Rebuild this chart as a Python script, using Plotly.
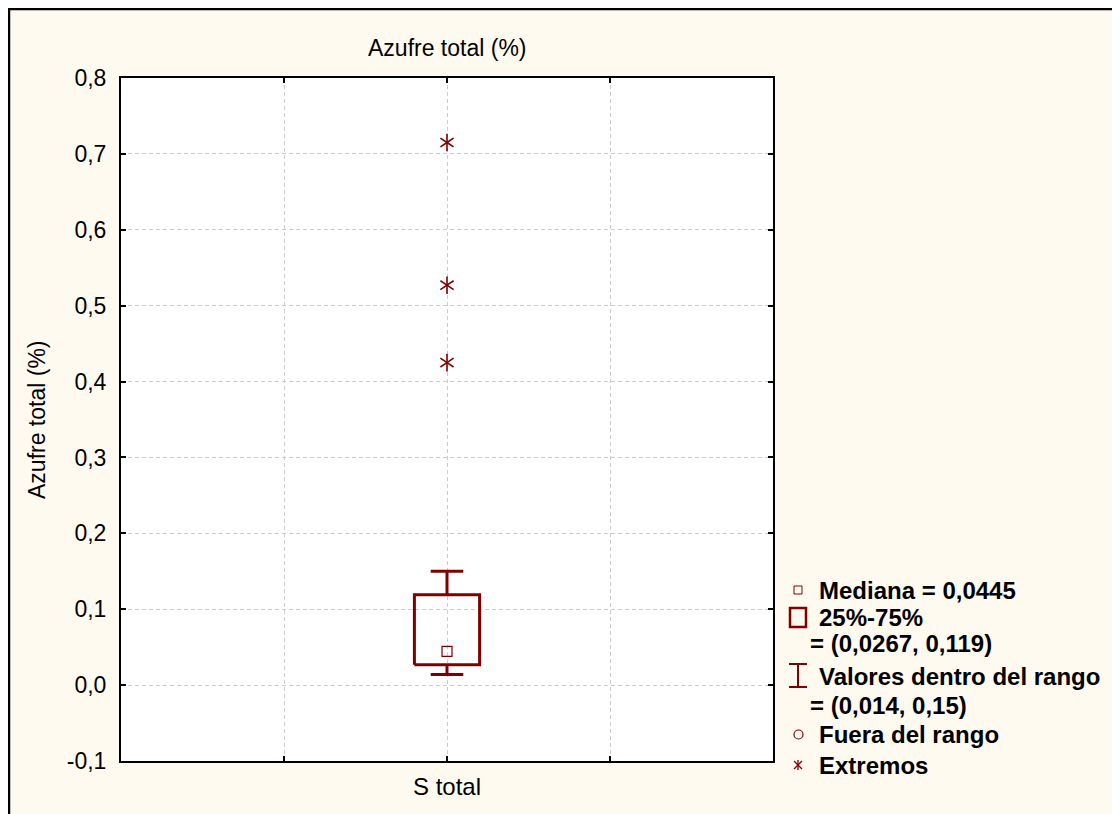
import plotly.graph_objects as go

# ---- data ----
category = ["S total"]
cat_pos = [2]
q1 = [0.0267]
median = [0.0445]
q3 = [0.119]
lower = [0.014]
upper = [0.15]
extremes = [0.715, 0.527, 0.425]
ytick_vals = [-0.1, 0.0, 0.1, 0.2, 0.3, 0.4, 0.5, 0.6, 0.7, 0.8]
ytick_text = ["-0,1", "0,0", "0,1", "0,2", "0,3", "0,4", "0,5", "0,6", "0,7", "0,8"]
legend_lines = ["Mediana = 0,0445", "25%-75%", "= (0,0267, 0,119)",
                "Valores dentro del rango", "= (0,014, 0,15)",
                "Fuera del rango", "Extremos"]

RED = "#800000"
BG = "#FFFAF0"
FONT = "Liberation Sans, Arial, sans-serif"

# page offset (browser body margin)
OX, OY = 8, 8
# plot area in page pixels
L, R, T, B = 121, 773, 78, 761
W, H = 1120 - OX, 814 - OY
def px(x):
    return (x - L) / (R - L)
def py(y):
    return (B - y) / (B - T)

box_half = 0.2
cap_half = 0.1

fig = go.Figure()

for c, a, m, b, lo, hi in zip(cat_pos, q1, median, q3, lower, upper):
    fig.add_trace(go.Scatter(
        x=[c - box_half, c + box_half, c + box_half, c - box_half, c - box_half],
        y=[a, a, b, b, a], mode="lines",
        line=dict(color=RED, width=3), showlegend=False, hoverinfo="skip"))
    fig.add_trace(go.Scatter(
        x=[c, c, None, c, c, None, c - cap_half, c + cap_half, None, c - cap_half, c + cap_half],
        y=[b, hi, None, a, lo, None, hi, hi, None, lo, lo], mode="lines",
        line=dict(color=RED, width=3), showlegend=False, hoverinfo="skip"))
    fig.add_trace(go.Scatter(
        x=[c], y=[m], mode="markers",
        marker=dict(symbol="square-open", size=10, color=RED, line=dict(width=1.2)),
        showlegend=False))

for sym in ["y-up-open", "y-down-open"]:
    fig.add_trace(go.Scatter(
        x=[cat_pos[0]] * len(extremes), y=extremes, mode="markers",
        marker=dict(symbol=sym, size=11, color=RED, line=dict(width=1.6, color=RED)),
        showlegend=False))

shapes = []
annotations = []

shapes.append(dict(type="rect", xref="paper", yref="paper",
                   x0=px(9), x1=px(1140), y0=py(840), y1=py(9),
                   line=dict(color="black", width=2.5), fillcolor="rgba(0,0,0,0)", layer="below"))

annotations.append(dict(text="Azufre total (%)", xref="paper", yref="paper",
                        x=px(447), y=py(48), xanchor="center", yanchor="middle", showarrow=False,
                        font=dict(family=FONT, size=23, color="black")))
annotations.append(dict(text="Azufre total (%)", xref="paper", yref="paper",
                        x=px(37), y=py(420), xanchor="center", yanchor="middle",
                        showarrow=False, textangle=-90,
                        font=dict(family=FONT, size=23, color="black")))

ys = [590, 617, 643, 676, 705, 734, 765]
for i, (t, yy) in enumerate(zip(legend_lines, ys)):
    xx = 817 if i not in (2, 4) else 808
    annotations.append(dict(text="<b>%s</b>" % t, xref="paper", yref="paper",
                            x=px(xx), y=py(yy), xanchor="left", yanchor="middle",
                            showarrow=False, font=dict(family=FONT, size=24, color="black")))
shapes.append(dict(type="rect", xref="paper", yref="paper",
                   x0=px(794), x1=px(802), y0=py(594), y1=py(586),
                   line=dict(color=RED, width=1)))
shapes.append(dict(type="rect", xref="paper", yref="paper",
                   x0=px(790), x1=px(806), y0=py(627), y1=py(608),
                   line=dict(color=RED, width=2.5)))
for seg in [((789, 664), (807, 664)), ((789, 687), (807, 687)), ((798, 664), (798, 687))]:
    shapes.append(dict(type="line", xref="paper", yref="paper",
                       x0=px(seg[0][0]), y0=py(seg[0][1]), x1=px(seg[1][0]), y1=py(seg[1][1]),
                       line=dict(color=RED, width=2)))
shapes.append(dict(type="circle", xref="paper", yref="paper",
                   x0=px(794), x1=px(803), y0=py(739), y1=py(730),
                   line=dict(color=RED, width=1.2)))
for seg in [((798, 760), (798, 770)), ((794, 761), (802, 769)), ((802, 761), (794, 769))]:
    shapes.append(dict(type="line", xref="paper", yref="paper",
                       x0=px(seg[0][0]), y0=py(seg[0][1]), x1=px(seg[1][0]), y1=py(seg[1][1]),
                       line=dict(color=RED, width=1.3)))

axis_common = dict(showline=True, linecolor="black", linewidth=2, mirror="ticks",
                   ticks="inside", ticklen=5, tickwidth=1.5, tickcolor="black",
                   showgrid=True, gridcolor="#cccccc", griddash="4px,3px", gridwidth=1,
                   zeroline=False, automargin=False)

fig.update_layout(
    width=W, height=H,
    margin=dict(l=L - OX, r=W - (R - OX), t=T - OY, b=H - (B - OY)),
    paper_bgcolor=BG, plot_bgcolor="white",
    separators=",.",
    shapes=shapes, annotations=annotations,
    xaxis=dict(range=[0, 4], tickvals=[1, 2, 3], ticktext=["", category[0], ""],
               ticklabelstandoff=3, tickfont=dict(family=FONT, size=24, color="black"),
               **axis_common),
    yaxis=dict(range=[-0.1, 0.8], tickvals=ytick_vals, ticktext=ytick_text, ticklabelstandoff=8,
               tickfont=dict(family=FONT, size=23, color="black"), **axis_common),
    showlegend=False,
)
fig.write_html("out.html")
